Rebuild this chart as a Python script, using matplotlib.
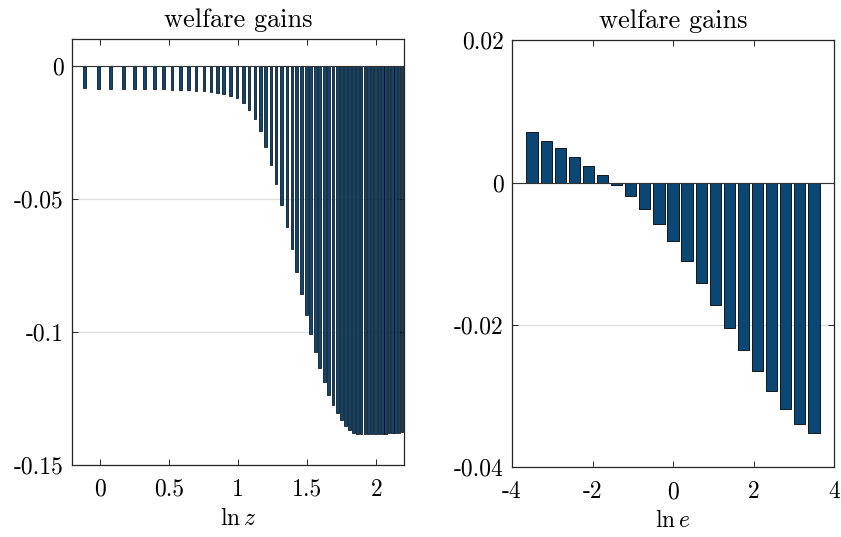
import matplotlib
matplotlib.use('Agg')
import matplotlib.pyplot as plt

plt.rcParams['font.family'] = 'serif'
plt.rcParams['font.serif'] = ['cmr10']
plt.rcParams['mathtext.fontset'] = 'cm'
plt.rcParams['axes.unicode_minus'] = False

# welfare gains over the productivity grid (ln z)
lnz = [-0.109, -0.007, 0.080, 0.172, 0.250, 0.326, 0.397, 0.462, 0.524, 0.585,
       0.641, 0.696, 0.754, 0.804, 0.851, 0.897, 0.947, 0.993, 1.038, 1.080,
       1.123, 1.161, 1.201, 1.239, 1.275, 1.313, 1.353, 1.389, 1.425, 1.459,
       1.493, 1.524, 1.558, 1.589, 1.623, 1.654, 1.686, 1.717, 1.746, 1.777,
       1.806, 1.836, 1.862, 1.890, 1.917, 1.943, 1.969, 1.994, 2.019, 2.044,
       2.068, 2.092, 2.116, 2.140, 2.163, 2.186]
gain_z = [-0.0085, -0.0086, -0.0086, -0.0086, -0.0087, -0.0087, -0.0088, -0.0088,
          -0.0090, -0.0091, -0.0092, -0.0095, -0.0096, -0.0098, -0.0102, -0.0107,
          -0.0113, -0.0123, -0.0141, -0.0166, -0.0202, -0.0247, -0.0304, -0.0372,
          -0.0445, -0.0522, -0.0605, -0.0690, -0.0775, -0.0857, -0.0936, -0.1009,
          -0.1077, -0.1138, -0.1190, -0.1237, -0.1276, -0.1307, -0.1333, -0.1355,
          -0.1371, -0.1382, -0.1386, -0.1386, -0.1386, -0.1386, -0.1386, -0.1386,
          -0.1386, -0.1385, -0.1384, -0.1383, -0.1382, -0.1381, -0.1380, -0.1378]

# welfare gains over the efficiency grid (ln e)
lne = [-3.50, -3.15, -2.80, -2.45, -2.10, -1.75, -1.40, -1.05, -0.70, -0.35,
       0.00, 0.35, 0.70, 1.05, 1.40, 1.75, 2.10, 2.45, 2.80, 3.15, 3.50]
gain_e = [0.0071, 0.0059, 0.0048, 0.0036, 0.0024, 0.0011, -0.0003, -0.0019,
          -0.0037, -0.0058, -0.00825, -0.0110, -0.0141, -0.0172, -0.0204,
          -0.0235, -0.0265, -0.0293, -0.0318, -0.0339, -0.0352]

bar_color = '#0a4774'
spine_color = '#262626'

fig = plt.figure(figsize=(8.41, 5.37), dpi=100)
ax1 = fig.add_axes([0.0856, 0.135, 0.3948, 0.792])
ax2 = fig.add_axes([0.6088, 0.130, 0.3829, 0.795])


def style(ax):
    ax.set_axisbelow(True)
    ax.grid(axis='y', color='#dedede', linewidth=0.9)
    ax.tick_params(direction='in', top=True, right=True, length=4, width=0.7,
                   labelsize=17, color=spine_color)
    ax.tick_params(axis='x', pad=10)
    ax.tick_params(axis='y', pad=6)
    for s in ax.spines.values():
        s.set_color(spine_color)
        s.set_linewidth(0.9)
    ax.set_title('welfare gains', fontsize=19, pad=9)


ax1.bar(lnz, gain_z, width=0.019, color=bar_color, edgecolor='k', linewidth=0.5)
ax1.axhline(0, color='#333333', linewidth=0.8)
ax1.set_xlim(-0.2, 2.2)
ax1.set_ylim(-0.15, 0.01)
ax1.set_xticks([0, 0.5, 1, 1.5, 2])
ax1.set_xticklabels(['0', '0.5', '1', '1.5', '2'])
ax1.set_yticks([-0.15, -0.1, -0.05, 0])
ax1.set_yticklabels(['-0.15', '-0.1', '-0.05', '0'])
ax1.set_xlabel(r'$\ln z$', fontsize=17, labelpad=5)
style(ax1)

ax2.bar(lne, gain_e, width=0.28, color=bar_color, edgecolor='k', linewidth=0.6)
ax2.axhline(0, color='#333333', linewidth=0.8)
ax2.set_xlim(-4, 4)
ax2.set_ylim(-0.04, 0.02)
ax2.set_xticks([-4, -2, 0, 2, 4])
ax2.set_xticklabels(['-4', '-2', '0', '2', '4'])
ax2.set_yticks([-0.04, -0.02, 0, 0.02])
ax2.set_yticklabels(['-0.04', '-0.02', '0', '0.02'])
ax2.set_xlabel(r'$\ln e$', fontsize=17, labelpad=5)
style(ax2)

fig.savefig('out.png', dpi=100)
